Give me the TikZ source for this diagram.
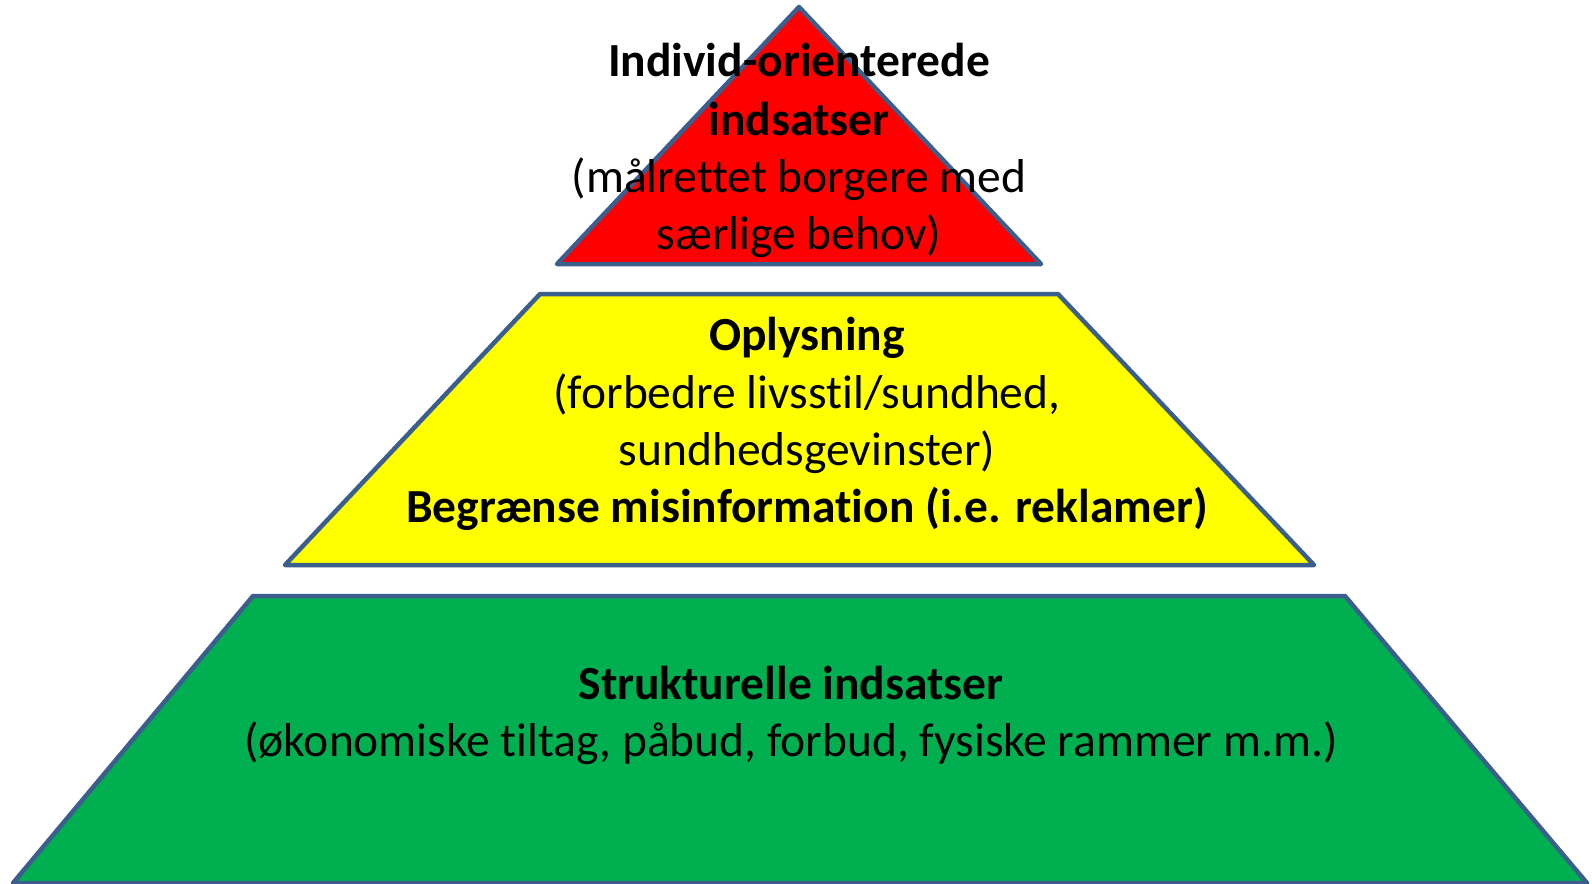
\documentclass[tikz,border=0pt]{standalone}
\usepackage{fontspec}
\setmainfont[Ligatures=NoCommon]{Carlito}
\definecolor{edge}{HTML}{3B5E8C}
\definecolor{tred}{HTML}{FF0000}
\definecolor{tyel}{HTML}{FFFF00}
\definecolor{tgrn}{HTML}{00B050}
\begin{document}
\begin{tikzpicture}[x=1pt,y=-1pt,
  layer/.style={draw=edge,line width=4.5pt,line join=round},
  txt/.style={anchor=base,inner sep=0pt,font=\fontsize{47.5}{57.5}\selectfont},
  btxt/.style={txt,font=\fontsize{47.5}{57.5}\selectfont\bfseries}]
\useasboundingbox (0,0) rectangle (1592,883);
\fill[white] (0,0) rectangle (1592,883);
% green base
\filldraw[layer,fill=tgrn] (253,596) -- (1345,596) -- (1587,883) -- (13,883) -- cycle;
% yellow middle
\filldraw[layer,fill=tyel] (540,294) -- (1058,294) -- (1314,565) -- (285,565) -- cycle;
% red top
\filldraw[layer,fill=tred] (799,7) -- (1041,264) -- (557,264) -- cycle;
% texts
\node[btxt] (r1) at (799,77) {Individ-orienterede};
\node[btxt] (r2) at (799,135) {indsatser};
\node[txt] (r3) at (799,192) {(målrettet borgere med};
\node[txt] (r4) at (799,249) {særlige behov)};
\node[btxt] (y1) at (807,350) {Oplysning};
\node[txt] (y2) at (807,408) {(forbedre livsstil/sundhed,};
\node[txt] (y3) at (807,465) {sundhedsgevinster)};
\node[btxt] (y4) at (807,522) {Begrænse misinformation (i.e. reklamer)};
\node[btxt] (g1) at (791,699) {Strukturelle indsatser};
\node[txt] (g2) at (791,756) {(økonomiske tiltag, påbud, forbud, fysiske rammer m.m.)};
\end{tikzpicture}
\end{document}
